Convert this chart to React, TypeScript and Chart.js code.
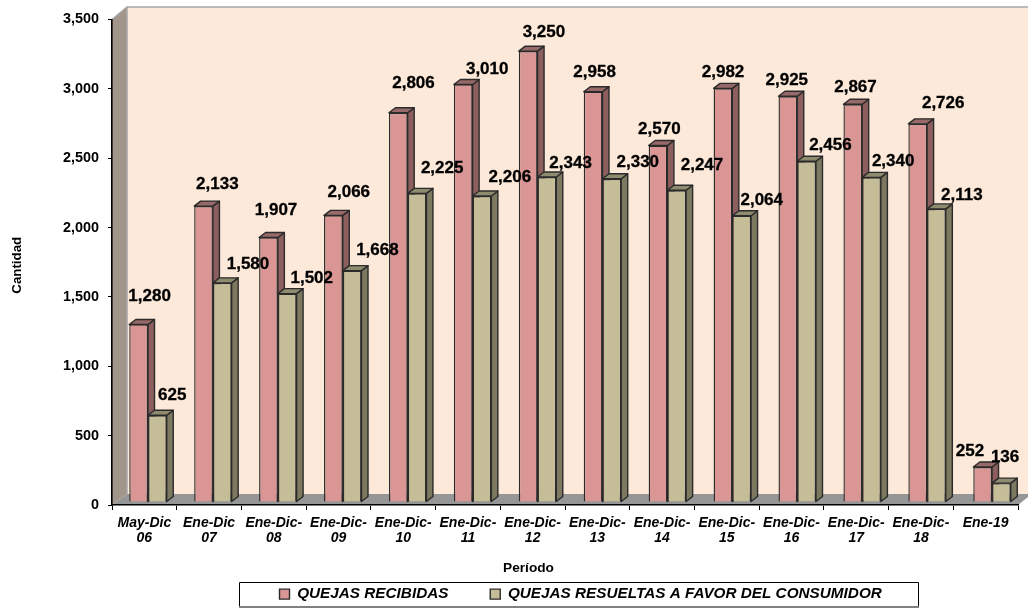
import React, { useEffect, useRef } from "react";
import { Chart, registerables } from "chart.js";

Chart.register(...registerables);

const categories = [
  ["May-Dic", "06"], ["Ene-Dic", "07"], ["Ene-Dic-", "08"], ["Ene-Dic-", "09"], ["Ene-Dic-", "10"],
  ["Ene-Dic-", "11"], ["Ene-Dic-", "12"], ["Ene-Dic-", "13"], ["Ene-Dic-", "14"], ["Ene-Dic-", "15"],
  ["Ene-Dic-", "16"], ["Ene-Dic-", "17"], ["Ene-Dic-", "18"], ["Ene-19"],
];
const recibidas = [1280, 2133, 1907, 2066, 2806, 3010, 3250, 2958, 2570, 2982, 2925, 2867, 2726, 252];
const resueltas = [625, 1580, 1502, 1668, 2225, 2206, 2343, 2330, 2247, 2064, 2456, 2340, 2113, 136];

const labelNudgeX = [
  [11, 14, 8, 16, 16, 25, 17, 3, 3, 2, 1, 5, 28, -10],
  [15, 26, 25, 26, 26, 29, 25, 27.5, 27, 22, 26, 24, 28, 6.5],
];
const labelNudgeY = [
  [-27.7, -21.4, -26.8, -22.7, -29.5, -15.5, -19.2, -19.2, -16.2, -16.4, -16.3, -17, -20.9, -16],
  [-20, -18.8, -15, -19.9, -24.7, -18.3, -13.7, -16.1, -24.6, -15, -16.3, -15.7, -13.2, -26],
];

const FONT = "'Liberation Sans', Arial, sans-serif";
const LABEL_SHIFT_X = 3.6;
const BAR_SHIFT_X = 3.16;
const BAR_STRETCH_X = 1.00325;
const SHIFT_Y = -3;
const DEPTH_X = 6.5;
const DEPTH_Y = 5;
const faceColors = [
  { side: "#8C5F5E", top: "#976A69" },
  { side: "#7D7960", top: "#8F8B6E" },
];

const walls = {
  id: "walls",
  beforeDraw(chart: any) {
    const { ctx, chartArea: a } = chart;
    const backX = a.left + 15;
    const backTop = a.top - 12.5;
    const backBottom = a.bottom - 11;
    ctx.save();
    ctx.fillStyle = "#FDE9D9";
    ctx.fillRect(backX, backTop, chart.width - backX, backBottom - backTop);
    ctx.fillStyle = "#A29589";
    ctx.beginPath();
    ctx.moveTo(a.left, a.top);
    ctx.lineTo(backX, backTop);
    ctx.lineTo(backX, backBottom);
    ctx.lineTo(a.left, a.bottom);
    ctx.closePath();
    ctx.fill();
    ctx.fillStyle = "#969696";
    ctx.beginPath();
    ctx.moveTo(a.left, a.bottom);
    ctx.lineTo(backX, backBottom);
    ctx.lineTo(chart.width, backBottom);
    ctx.lineTo(chart.width, a.bottom - 8);
    ctx.lineTo(a.right, a.bottom);
    ctx.closePath();
    ctx.fill();
    ctx.strokeStyle = "#A6A6A6";
    ctx.lineWidth = 1.5;
    ctx.beginPath();
    ctx.moveTo(a.left, a.top);
    ctx.lineTo(backX, backTop);
    ctx.lineTo(chart.width, backTop);
    ctx.moveTo(backX, backTop);
    ctx.lineTo(backX, backBottom);
    ctx.stroke();

    // legend frame
    ctx.fillStyle = "#FFFFFF";
    ctx.fillRect(239, 582, 679, 25);
    ctx.strokeStyle = "#000000";
    ctx.lineWidth = 1;
    ctx.beginPath();
    ctx.moveTo(239.5, 607);
    ctx.lineTo(239.5, 582.5);
    ctx.lineTo(918.5, 582.5);
    ctx.lineTo(918.5, 606);
    ctx.stroke();
    ctx.strokeStyle = "#808080";
    ctx.lineWidth = 2;
    ctx.beginPath();
    ctx.moveTo(239, 607);
    ctx.lineTo(919, 607);
    ctx.stroke();
    ctx.restore();
  },
};

const recentreTitle = (scale: any, edge: "right" | "bottom", value: number) => {
  if (scale.__wrapped) return;
  const original = scale.drawTitle;
  scale.drawTitle = function () {
    const kept = this[edge];
    this[edge] = value;
    original.call(this);
    this[edge] = kept;
  };
  scale.__wrapped = true;
};

const bars3d = {
  id: "bars3d",
  afterLayout(chart: any) {
    const lg = chart.legend;
    if (lg) {
      const pad = lg.options.labels.padding;
      lg.left = 279.5 - pad;
      lg.right = 1028;
      lg.top = 595.5 - pad - lg._computeTitleHeight() - 9;
      lg.bottom = 608;
    }
    recentreTitle(chart.scales.x, "right", 945);
    recentreTitle(chart.scales.y, "bottom", 511);
  },
  beforeDatasetsDraw(chart: any) {
    const { ctx } = chart;
    ctx.save();
    ctx.translate(BAR_SHIFT_X, SHIFT_Y);
    ctx.scale(BAR_STRETCH_X, 1);
    [0, 1].forEach((d) => {
      const meta = chart.getDatasetMeta(d);
      meta.data.forEach((el: any) => {
        const { x, y, base, width } = el.getProps(["x", "y", "base", "width"], true);
        const l = x - width / 2;
        const r = x + width / 2;
        ctx.strokeStyle = "#2B2B2B";
        ctx.lineWidth = 1.4;
        ctx.lineJoin = "round";
        ctx.fillStyle = faceColors[d].side;
        ctx.beginPath();
        ctx.moveTo(r, y);
        ctx.lineTo(r + DEPTH_X, y - DEPTH_Y);
        ctx.lineTo(r + DEPTH_X, base - DEPTH_Y);
        ctx.lineTo(r, base);
        ctx.closePath();
        ctx.fill();
        ctx.stroke();
        ctx.fillStyle = faceColors[d].top;
        ctx.beginPath();
        ctx.moveTo(l, y);
        ctx.lineTo(l + DEPTH_X, y - DEPTH_Y);
        ctx.lineTo(r + DEPTH_X, y - DEPTH_Y);
        ctx.lineTo(r, y);
        ctx.closePath();
        ctx.fill();
        ctx.stroke();
      });
    });
  },
  afterDatasetsDraw(chart: any) {
    const { ctx } = chart;
    ctx.restore();
    ctx.save();
    ctx.fillStyle = "#000000";
    ctx.strokeStyle = "#000000";
    ctx.lineWidth = 0.3;
    ctx.font = `bold 17px ${FONT}`;
    ctx.textAlign = "center";
    ctx.textBaseline = "middle";
    [0, 1].forEach((d) => {
      const meta = chart.getDatasetMeta(d);
      meta.data.forEach((el: any, i: number) => {
        const { x, y } = el.getProps(["x", "y"], true);
        const v = chart.data.datasets[d].data[i];
        const text = Number(v).toLocaleString("en-US");
        const tx = x + LABEL_SHIFT_X + labelNudgeX[d][i];
        const ty = y + SHIFT_Y + labelNudgeY[d][i];
        ctx.fillText(text, tx, ty);
        ctx.strokeText(text, tx, ty);
      });
    });
    ctx.restore();
  },
};

export default function App() {
  const ref = useRef<HTMLCanvasElement>(null);
  useEffect(() => {
    const chart = new Chart(ref.current as HTMLCanvasElement, {
      type: "bar",
      data: {
        labels: categories,
        datasets: [
          {
            label: "QUEJAS RECIBIDAS",
            data: recibidas,
            backgroundColor: "#D99694",
            borderColor: "#2B2B2B",
            borderWidth: 1.4,
            clip: false,
          },
          {
            label: "QUEJAS RESUELTAS A FAVOR DEL CONSUMIDOR",
            data: resueltas,
            backgroundColor: "#C4BD97",
            borderColor: "#2B2B2B",
            borderWidth: 1.4,
            clip: false,
          },
        ],
      } as any,
      options: {
        responsive: false,
        animation: false,
        devicePixelRatio: 1,
        datasets: { bar: { categoryPercentage: 0.577, barPercentage: 1 } },
        layout: { padding: { left: 0, top: 19.5, right: 10, bottom: 0 } },
        plugins: {
          title: { display: false },
          tooltip: { enabled: false },
          legend: {
            position: "bottom",
            align: "start",
            maxHeight: 32,
            labels: {
              boxWidth: 10,
              boxHeight: 10,
              padding: 41.8,
              color: "#000000",
              font: { family: FONT, size: 15.3, weight: "bold", style: "italic", lineHeight: 1.2 },
            },
          },
        },
        scales: {
          x: {
            afterFit(s: any) {
              s.height = 71;
            },
            border: { color: "#000000", width: 1.6 },
            grid: { drawOnChartArea: false, color: "#000000", tickLength: 5, offset: true },
            ticks: {
              autoSkip: false,
              maxRotation: 0,
              minRotation: 0,
              padding: 5.5,
              color: "#000000",
              font: { family: FONT, size: 14, weight: "bold", style: "italic", lineHeight: 1.07 },
            },
            title: {
              display: true,
              text: "Período",
              color: "#000000",
              padding: 0,
              font: { family: FONT, size: 13.7, weight: "bold", lineHeight: 1.2 },
            },
          },
          y: {
            min: 0,
            max: 3500,
            afterFit(s: any) {
              s.width = 112;
            },
            border: { color: "#000000", width: 1.6 },
            grid: { drawOnChartArea: false, color: "#000000", tickLength: 4 },
            ticks: {
              stepSize: 500,
              padding: 9,
              color: "#000000",
              font: { family: FONT, size: 14.4, weight: "bold" },
              callback: (v: any) => Number(v).toLocaleString("en-US"),
            },
            title: {
              display: true,
              text: "Cantidad",
              color: "#000000",
              padding: { top: 9.5, bottom: 0 },
              font: { family: FONT, size: 13.3, weight: "bold", lineHeight: 1.2 },
            },
          },
        },
      },
      plugins: [walls, bars3d],
    } as any);
    return () => chart.destroy();
  }, []);
  return (
    <div style={{ position: "fixed", left: 0, top: 0, width: 1028, height: 608, background: "#fff" }}>
      <canvas ref={ref} width={1028} height={608} style={{ display: "block" }} />
    </div>
  );
}
